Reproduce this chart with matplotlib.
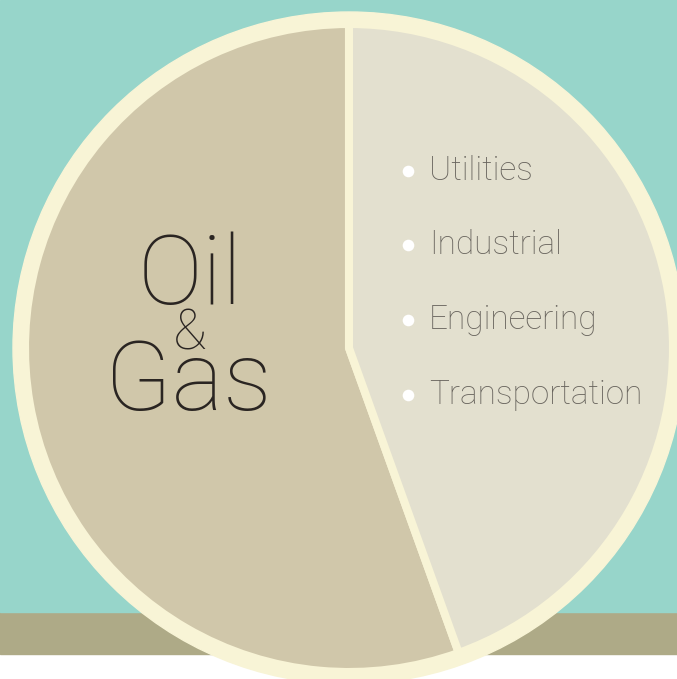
import matplotlib.pyplot as plt
from matplotlib.patches import Circle, Rectangle

W, H = 677, 679

shares = [55.5, 44.5]
wedge_colors = ['#d0c7aa', '#e3e0cf']
items = ['Utilities', 'Industrial', 'Engineering', 'Transportation']
item_y = [171, 245, 320, 395]

plt.rcParams['font.family'] = ['Roboto', 'DejaVu Sans']

fig = plt.figure(figsize=(W / 100, H / 100), dpi=100)
ax = fig.add_axes([0, 0, 1, 1])

# background bands (y measured from bottom)
ax.add_patch(Rectangle((0, 0), W, H, color='#ffffff', zorder=0))
ax.add_patch(Rectangle((0, H - 654), W, 654 - 612, color='#aeaa87', zorder=0))
ax.add_patch(Rectangle((0, H - 612), W, 612, color='#97d5ca', zorder=0))

cx, cy = 349, H - 348
ax.add_patch(Circle((cx, cy), 336, color='#f8f4d6', zorder=1))

wedges, _ = ax.pie(shares, colors=wedge_colors, startangle=90, counterclock=True,
                   center=(cx, cy), radius=324, frame=True,
                   wedgeprops=dict(edgecolor='#f8f4d6', linewidth=5.8))
for w in wedges:
    w.set_zorder(2)
ax.set_xlim(0, W)
ax.set_ylim(0, H)
ax.set_aspect('equal')
ax.axis('off')

txt = '#2a2522'
ax.text(190, H - 304, 'Oil', fontsize=70, fontweight=100, color=txt,
        ha='center', va='baseline', zorder=3)
ax.text(190, H - 334, '&', fontsize=40, fontweight=100, color=txt,
        ha='center', va='center', zorder=3)
ax.text(188, H - 410, 'Gas', fontsize=70, fontweight=100, color=txt,
        ha='center', va='baseline', zorder=3)

ax.scatter([408] * len(items), [H - y for y in item_y], s=70, color='white',
           zorder=3, linewidths=0)
for name, y in zip(items, item_y):
    ax.text(429, H - y, name, fontsize=24, fontweight=100, color='#69655e',
            ha='left', va='center', zorder=3)

fig.savefig('out.png', dpi=100, facecolor='white')
